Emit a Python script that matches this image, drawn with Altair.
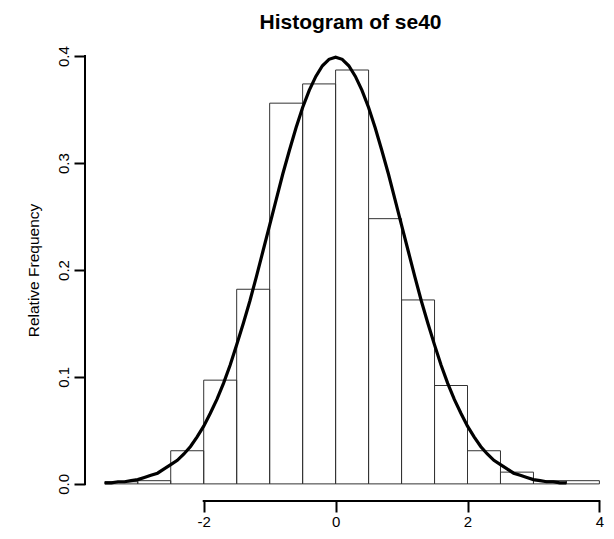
import altair as alt
import pandas as pd

# Histogram bins (relative frequency / density)
bin_left = [-3.5, -3.0, -2.5, -2.0, -1.5, -1.0, -0.5, 0.0, 0.5, 1.0, 1.5, 2.0, 2.5, 3.0, 3.5]
bin_right = [-3.0, -2.5, -2.0, -1.5, -1.0, -0.5, 0.0, 0.5, 1.0, 1.5, 2.0, 2.5, 3.0, 3.5, 4.0]
rel_freq = [0.002, 0.003, 0.031, 0.097, 0.182, 0.356, 0.374, 0.387, 0.248, 0.172,
            0.092, 0.031, 0.011, 0.003, 0.003]

# Overlaid density curve
curve_x = [-3.5, -3.4, -3.3, -3.2, -3.1, -3.0, -2.9, -2.8, -2.7, -2.6,
           -2.5, -2.4, -2.3, -2.2, -2.1, -2.0, -1.9, -1.8, -1.7, -1.6,
           -1.5, -1.4, -1.3, -1.2, -1.1, -1.0, -0.9, -0.8, -0.7, -0.6,
           -0.5, -0.4, -0.3, -0.2, -0.1, 0.0, 0.1, 0.2, 0.3, 0.4,
           0.5, 0.6, 0.7, 0.8, 0.9, 1.0, 1.1, 1.2, 1.3, 1.4,
           1.5, 1.6, 1.7, 1.8, 1.9, 2.0, 2.1, 2.2, 2.3, 2.4,
           2.5, 2.6, 2.7, 2.8, 2.9, 3.0, 3.1, 3.2, 3.3, 3.4, 3.5]
curve_y = [0.001, 0.001, 0.002, 0.002, 0.003, 0.004, 0.006, 0.008, 0.010, 0.014,
           0.018, 0.022, 0.028, 0.035, 0.044, 0.054, 0.066, 0.079, 0.094, 0.111,
           0.130, 0.150, 0.171, 0.194, 0.218, 0.242, 0.266, 0.290, 0.312, 0.333,
           0.352, 0.368, 0.381, 0.391, 0.397, 0.399, 0.397, 0.391, 0.381, 0.368,
           0.352, 0.333, 0.312, 0.290, 0.266, 0.242, 0.218, 0.194, 0.171, 0.150,
           0.130, 0.111, 0.094, 0.079, 0.066, 0.054, 0.044, 0.035, 0.028, 0.022,
           0.018, 0.014, 0.010, 0.008, 0.006, 0.004, 0.003, 0.002, 0.002, 0.001, 0.001]

x_ticks = [-2, 0, 2, 4]
y_ticks = [0.0, 0.1, 0.2, 0.3, 0.4]
x_axis_span = [-2, 4]
y_axis_span = [0.0, 0.4]

FONT = "Liberation Sans"
W, H = 521, 462

bars_df = pd.DataFrame({"left": bin_left, "right": bin_right, "freq": rel_freq})
curve_df = pd.DataFrame({"x": curve_x, "y": curve_y})
xline_df = pd.DataFrame({"a": [x_axis_span[0]], "b": [x_axis_span[1]]})
yline_df = pd.DataFrame({"a": [y_axis_span[0]], "b": [y_axis_span[1]]})

xs = alt.Scale(domain=[-3.8, 4.1], nice=False, zero=False)
ys = alt.Scale(domain=[-0.016, 0.416], nice=False, zero=False)

x_axis = alt.Axis(values=x_ticks, domain=False, grid=False, tickSize=11, tickWidth=2,
                  tickColor="black", labelFontSize=15, labelFont=FONT, labelColor="black",
                  labelPadding=2, labelExpr="'' + datum.value", title=None)
y_axis = alt.Axis(values=y_ticks, domain=False, grid=False, tickSize=11, tickWidth=2,
                  tickColor="black", labelFontSize=15, labelFont=FONT, labelColor="black",
                  labelAngle=270, labelAlign="center", labelBaseline="bottom",
                  labelPadding=3, format=".1f",
                  title="Relative Frequency", titleFont=FONT, titleFontSize=15.5,
                  titleFontWeight="normal", titleColor="black", titleAngle=270,
                  titleAlign="center", titleBaseline="bottom", titleX=-44, titleY=H / 2)

bars = alt.Chart(bars_df).mark_rect(fillOpacity=0, stroke="#333333", strokeWidth=1).encode(
    x=alt.X("left:Q", scale=xs, axis=x_axis),
    x2="right:Q",
    y=alt.Y("freq:Q", scale=ys, axis=y_axis),
    y2=alt.datum(0),
)

curve = alt.Chart(curve_df).mark_line(color="black", strokeWidth=3.2).encode(
    x=alt.X("x:Q", scale=xs, axis=x_axis),
    y=alt.Y("y:Q", scale=ys, axis=y_axis),
)

xline = alt.Chart(xline_df).mark_rule(color="black", strokeWidth=2, strokeCap="square").encode(
    x=alt.X("a:Q", scale=xs, axis=x_axis),
    x2="b:Q",
    y=alt.value(H),
)

yline = alt.Chart(yline_df).mark_rule(color="black", strokeWidth=2, strokeCap="square").encode(
    x=alt.value(0),
    y=alt.Y("a:Q", scale=ys, axis=y_axis),
    y2="b:Q",
)

chart = alt.layer(bars, curve, xline, yline).properties(
    width=W,
    height=H,
    autosize="none",
    padding={"left": 77, "top": 31, "right": 0, "bottom": 28},
    title=alt.TitleParams("Histogram of se40", font=FONT, fontSize=21, fontWeight="bold",
                          color="black", anchor="middle", dx=5, offset=6),
    background="white",
).configure_view(stroke=None)

chart.save("out.html", embed_options={"renderer": "svg", "actions": False})
